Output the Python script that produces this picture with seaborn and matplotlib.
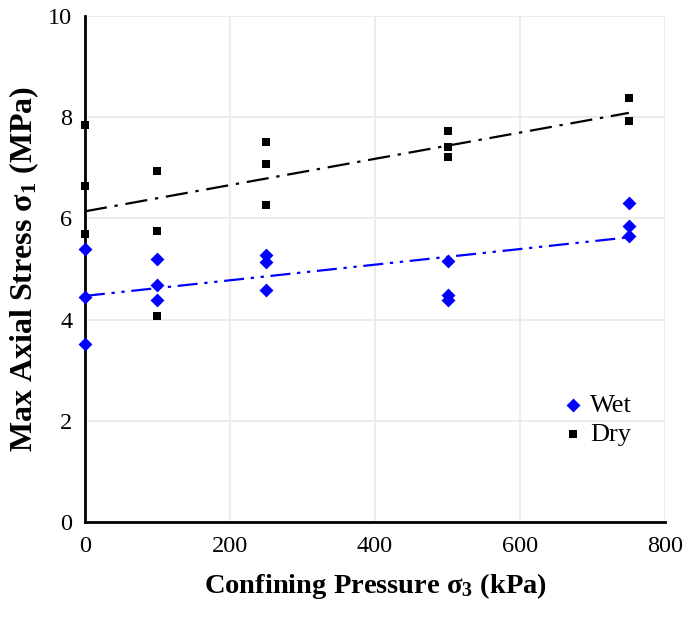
import numpy as np
import pandas as pd
import seaborn as sns
import matplotlib.pyplot as plt

# --- data ---
wet_x = [0, 0, 0, 100, 100, 100, 250, 250, 250, 500, 500, 500, 750, 750, 750]
wet_y = [5.39, 4.44, 3.52, 5.19, 4.69, 4.38, 5.27, 5.13, 4.59, 5.15, 4.49, 4.38, 6.31, 5.86, 5.65]

dry_x = [0, 0, 0, 100, 100, 100, 250, 250, 250, 500, 500, 500, 750, 750]
dry_y = [7.84, 6.65, 5.70, 6.93, 5.76, 4.08, 7.52, 7.07, 6.26, 7.72, 7.41, 7.22, 8.38, 7.93]

wet = pd.DataFrame({'x': wet_x, 'y': wet_y})
dry = pd.DataFrame({'x': dry_x, 'y': dry_y})

sns.set_style('white')
plt.rcParams['font.family'] = ['Liberation Serif', 'DejaVu Serif']
plt.rcParams['mathtext.fontset'] = 'custom'
plt.rcParams['mathtext.rm'] = 'Liberation Serif'
plt.rcParams['mathtext.it'] = 'Liberation Serif:italic'
plt.rcParams['mathtext.bf'] = 'Liberation Serif:bold'
plt.rcParams['text.color'] = 'black'
plt.rcParams['axes.labelcolor'] = 'black'
plt.rcParams['xtick.color'] = 'black'
plt.rcParams['ytick.color'] = 'black'

fig = plt.figure(figsize=(6.85, 6.17), dpi=100)
ax = fig.add_axes([0.124, 0.154, 0.847, 0.820])

# grid
ax.set_axisbelow(True)
ax.grid(True, color='#ececec', linewidth=1.5)

sns.scatterplot(data=wet, x='x', y='y', color='#0000ff', marker='D', s=50,
                linewidth=0, ax=ax, zorder=3, clip_on=False, label='Wet')
sns.scatterplot(data=dry, x='x', y='y', color='black', marker='s', s=30,
                linewidth=0, ax=ax, zorder=3, clip_on=False, label='Dry')

# linear trendlines (Excel style)
xs = np.array([0, 750])
c = np.polyfit(wet_x, wet_y, 1)
ax.plot(xs, np.polyval(c, xs), color='#0000ff', linewidth=1.6,
        dashes=[9, 3, 1.5, 3, 1.5, 3], zorder=2, clip_on=False)
c = np.polyfit(dry_x, dry_y, 1)
ax.plot(xs, np.polyval(c, xs), color='black', linewidth=1.6,
        dashes=[10, 3.5, 1.5, 3.5], zorder=2, clip_on=False)

ax.set_xlim(0, 800)
ax.set_ylim(0, 10)
ax.set_xticks(range(0, 801, 200))
ax.set_yticks(range(0, 11, 2))
ax.tick_params(labelsize=17.5, length=0)
ax.tick_params(axis='x', pad=10)
ax.tick_params(axis='y', pad=9)

for side in ['top', 'right']:
    ax.spines[side].set_visible(False)
for side in ['left', 'bottom']:
    ax.spines[side].set_color('black')
    ax.spines[side].set_linewidth(2)

ax.set_xlabel(r'Confining Pressure $\mathbf{\sigma_3}$ (kPa)', fontsize=20.5,
              fontweight='bold', labelpad=10)
ax.set_ylabel(r'Max Axial Stress $\mathbf{\sigma_1}$ (MPa)', fontsize=23,
              fontweight='bold', labelpad=5)

leg = ax.legend(loc='upper left', bbox_to_anchor=(0.8, 0.275), frameon=False,
                fontsize=19, handletextpad=0.15, labelspacing=0.2,
                borderaxespad=0, handlelength=1.0)

plt.savefig('out.png', dpi=100)
